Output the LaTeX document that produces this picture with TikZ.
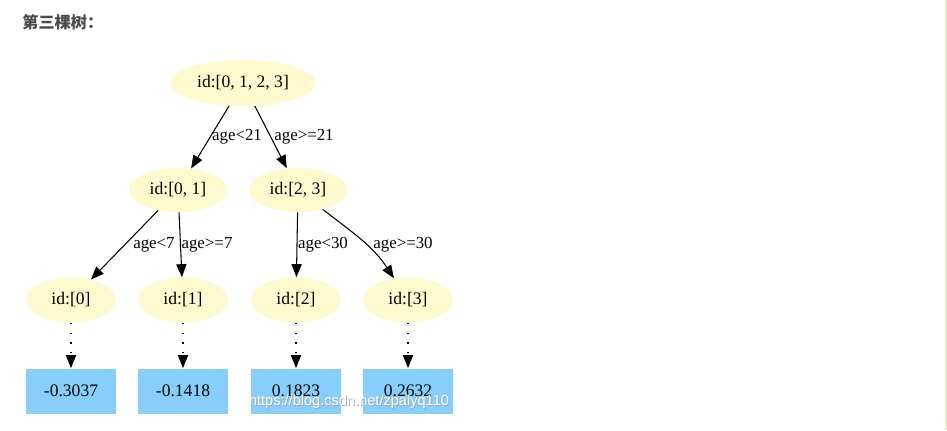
\documentclass[tikz,border=0pt]{standalone}
\usepackage{fontspec}
\setmainfont{Liberation Serif}
\newfontfamily\cjk{Noto Sans CJK SC}
\newfontfamily\wmfont{Liberation Sans}
\usepackage{tikz}
\usetikzlibrary{shapes.geometric, arrows.meta}
\definecolor{nodeyellow}{HTML}{FFFACD}
\definecolor{leafblue}{HTML}{87CEFA}
\definecolor{titlegray}{HTML}{4A4A4A}
\definecolor{edgeline}{HTML}{E6EAD4}
\tikzset{
  idnode/.style={
    ellipse,
    fill=nodeyellow,
    inner sep=0pt,
    minimum width=1.96cm,
    minimum height=0.88cm,
    font=\fontsize{10}{12}\selectfont
  },
  leafbox/.style={
    rectangle,
    fill=leafblue,
    inner sep=0pt,
    minimum width=1.8cm,
    minimum height=0.9cm,
    font=\fontsize{10}{12}\selectfont
  },
  split/.style={
    -{Triangle[length=7.4pt, width=5.8pt]},
    line width=0.6pt,
    color=black
  },
  leafarrow/.style={
    -{Triangle[length=7.4pt, width=5.8pt]},
    line width=0.8pt,
    dash pattern=on 0.9pt off 4.6pt,
    color=black
  },
  cond/.style={
    font=\fontsize{9.6}{11}\selectfont,
    inner sep=0pt
  },
  watermark/.style={
    inner sep=0pt,
    font=\wmfont\fontsize{8.3}{10}\selectfont
  }
}

\begin{document}
\begin{tikzpicture}[x=0.02cm, y=-0.02cm]
    % 1 单位 = 1 像素
    \useasboundingbox (0, 0) rectangle (947, 430);
    \draw[edgeline, line width=0.6pt] (946, 0) -- (946, 430);

    % 标题
    \node[anchor=west, inner sep=0pt, text=titlegray, font=\cjk\bfseries\fontsize{9.2}{11}\selectfont] (title) at (22, 22) {第三棵树：};

    % 树的节点
    \node[idnode, minimum width=2.9cm, minimum height=0.92cm] (root) at (243, 83) {id:[0, 1, 2, 3]};
    \node[idnode] (t01) at (178, 190) {id:[0, 1]};
    \node[idnode] (t23) at (298, 190) {id:[2, 3]};
    \node[idnode, minimum width=1.8cm, minimum height=0.9cm] (l0) at (71, 300) {id:[0]};
    \node[idnode, minimum width=1.8cm, minimum height=0.9cm] (l1) at (183, 300) {id:[1]};
    \node[idnode, minimum width=1.8cm, minimum height=0.9cm] (l2) at (296, 300) {id:[2]};
    \node[idnode, minimum width=1.8cm, minimum height=0.9cm] (l3) at (408, 300) {id:[3]};

    % 叶子的值
    \node[leafbox] (v0) at (71, 391) {-0.3037};
    \node[leafbox] (v1) at (183, 391) {-0.1418};
    \node[leafbox] (v2) at (296, 391) {0.1823};
    \node[leafbox] (v3) at (408, 391) {0.2632};

    % 分裂条件
    \draw[split] (root) -- (t01);
    \draw[split] (root) -- (t23);
    \draw[split] (t01) -- (l0);
    \draw[split] (t01) -- (l1);
    \draw[split] (t23) -- (l2);
    \draw[split] (t23) to[out=-38, in=123] (l3);
    \node[cond] (c1) at (237, 137) {age<21};
    \node[cond] (c2) at (304, 137) {age>=21};
    \node[cond] (c3) at (154, 245) {age<7};
    \node[cond] (c4) at (207, 245) {age>=7};
    \node[cond] (c5) at (323, 245) {age<30};
    \node[cond] (c6) at (403, 245) {age>=30};

    % 虚线箭头
    \foreach \i in {0,1,2,3} {
      \draw[leafarrow] (l\i) -- (v\i);
    }

    % 水印
    \node[watermark, text=black!35] (wmshadow) at (349.8, 402.8) {https://blog.csdn.net/zpalyq110};
    \node[watermark, text=white] (wm) at (349, 402) {https://blog.csdn.net/zpalyq110};

  \end{tikzpicture}
\end{document}
